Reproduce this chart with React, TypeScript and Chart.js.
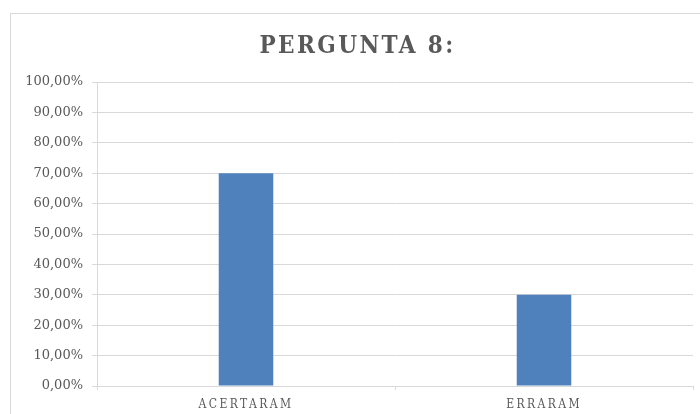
import React, { useEffect, useRef } from "react";
import { Chart, registerables } from "chart.js";

Chart.register(...registerables);

const categories: string[] = ["ACERTARAM", "ERRARAM"];
const values: number[] = [70, 30];
const titleText = "PERGUNTA 8:";

const formatPct = (v: number) => v.toFixed(2).replace(".", ",") + "%";

const framePlugin = {
  id: "frame",
  beforeDraw(chart: any) {
    const ctx = chart.ctx;
    ctx.save();
    ctx.fillStyle = "#ffffff";
    ctx.fillRect(0, 0, chart.width, chart.height);
    ctx.strokeStyle = "#d9d9d9";
    ctx.lineWidth = 1;
    ctx.strokeRect(10.5, 13.5, 760, 460);
    ctx.restore();
  },
};

const spacingPlugin = {
  id: "spacing",
  afterLayout(chart: any) {
    const ctx = chart.ctx;
    const xs = chart.scales.x;
    if (xs && !xs.__patched) {
      const orig = xs.drawLabels;
      xs.drawLabels = function (area: any) {
        ctx.save();
        ctx.letterSpacing = "2.4px";
        orig.call(this, area);
        ctx.restore();
      };
      xs.__patched = true;
    }
    const tb = chart.titleBlock;
    if (tb && !tb.__patched) {
      const origT = tb.draw;
      tb.draw = function (...args: any[]) {
        ctx.save();
        ctx.letterSpacing = "2.4px";
        origT.apply(this, args);
        ctx.restore();
      };
      tb.__patched = true;
    }
  },
};

export default function App() {
  const ref = useRef<HTMLCanvasElement | null>(null);
  useEffect(() => {
    if (!ref.current) return;
    const chart = new Chart(ref.current, {
      type: "bar",
      data: {
        labels: categories,
        datasets: [
          {
            data: values,
            backgroundColor: "#4f81bd",
            borderWidth: 0,
            categoryPercentage: 1,
            barPercentage: 0.183,
          },
        ],
      },
      options: {
        responsive: false,
        animation: false,
        layout: { padding: { top: 32, left: 22, right: 7, bottom: 0 } },
        plugins: {
          legend: { display: false },
          tooltip: { enabled: false },
          title: {
            display: true,
            text: titleText,
            color: "#595959",
            font: { family: "DejaVu Serif Condensed", size: 24, weight: "bold" },
            padding: { top: 0, bottom: 21.2 },
          },
        },
        scales: {
          x: {
            afterFit: (s: any) => {
              s.height = 28;
            },
            grid: {
              drawOnChartArea: false,
              drawTicks: true,
              tickLength: 4,
              color: "#d9d9d9",
            },
            border: { display: true, color: "#d9d9d9" },
            ticks: {
              color: "#595959",
              padding: 8,
              font: { family: "DejaVu Serif Condensed", size: 12 },
            },
          },
          y: {
            min: 0,
            max: 100,
            afterFit: (s: any) => {
              s.width = 75;
            },
            grid: {
              color: "#d9d9d9",
              tickLength: 5,
            },
            border: { display: true, color: "#d9d9d9" },
            ticks: {
              stepSize: 10,
              color: "#595959",
              padding: 9,
              font: { family: "DejaVu Serif", size: 13 },
              callback: (v: any) => formatPct(Number(v)),
            },
          },
        },
      },
      plugins: [framePlugin, spacingPlugin],
    });
    return () => chart.destroy();
  }, []);
  return (
    <div style={{ position: "absolute", left: 0, top: 0, width: 700, height: 414 }}>
      <canvas ref={ref} width={700} height={414} style={{ display: "block" }} />
    </div>
  );
}
